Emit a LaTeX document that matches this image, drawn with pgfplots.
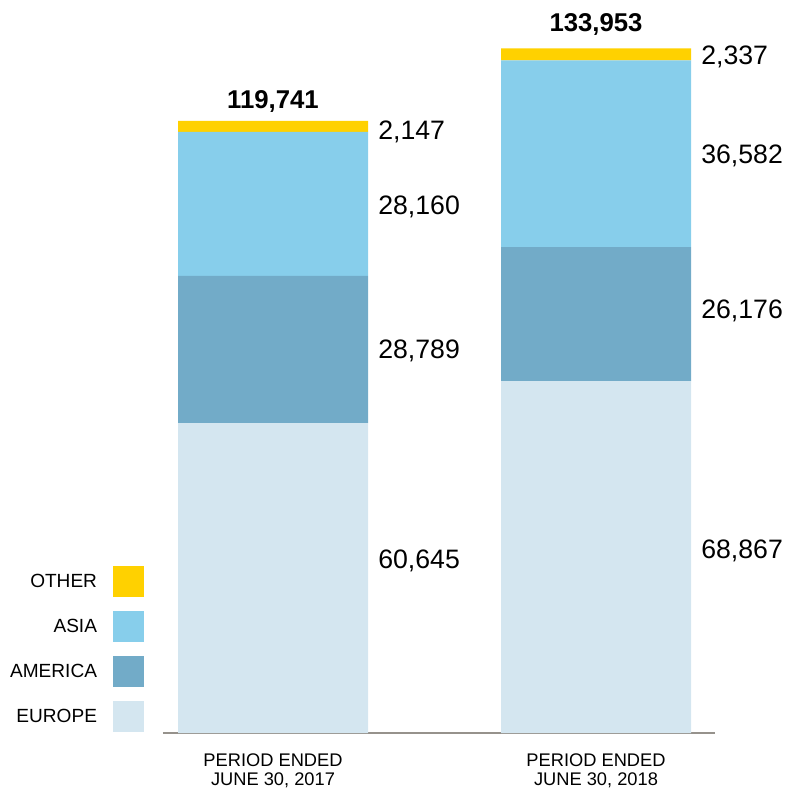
\documentclass[border=0pt]{standalone}
\usepackage{pgfplots}
\pgfplotsset{compat=1.18}
\usepackage{fontspec}
\setmainfont{Liberation Sans}
\definecolor{europe}{RGB}{212,230,240}
\definecolor{america}{RGB}{114,171,200}
\definecolor{asia}{RGB}{135,206,235}
\definecolor{other}{RGB}{255,209,0}
\definecolor{baseln}{RGB}{150,146,140}
\tikzset{
  vlab/.style={inner sep=0pt, font=\fontsize{20}{22}\selectfont, anchor=base west},
  tlab/.style={inner sep=0pt, font=\bfseries\fontsize{19.3}{22}\selectfont, anchor=base},
}
\begin{document}
\begin{tikzpicture}
\begin{axis}[
  scale only axis,
  width=590.25pt, height=549.75pt,
  xmin=-0.8452, xmax=1.5913,
  ymin=0, ymax=143416,
  clip=false,
  ybar stacked,
  bar width=142.5pt,
  axis line style={draw=none},
  major tick style={draw=none},
  ytick=\empty,
  xtick={0,1},
  xticklabels={{PERIOD ENDED\\JUNE 30, 2017},{PERIOD ENDED\\JUNE 30, 2018}},
  xticklabel style={align=center, inner sep=0pt, yshift=-15pt,
    font=\fontsize{13.7}{14.25}\selectfont},
  legend image code/.code={\fill[#1] (0pt,-11pt) rectangle (23.25pt,12.25pt);},
  legend plot pos=right,
  legend cell align=right,
  reverse legend,
  legend style={at={(axis description cs:0.18297,0.22783)}, anchor=north east,
    draw=none, fill=none, inner sep=0pt, outer sep=0pt,
    row sep=10.5pt, column sep=12pt,
    nodes={inner sep=0pt, font=\fontsize{14.3}{16}\selectfont}},
]
\addplot[fill=europe, draw=none] coordinates {(0,60645) (1,68867)};
\addplot[fill=america, draw=none] coordinates {(0,28789) (1,26176)};
\addplot[fill=asia, draw=none] coordinates {(0,28160) (1,36582)};
\addplot[fill=other, draw=none] coordinates {(0,2147) (1,2337)};
\legend{EUROPE, AMERICA, ASIA, OTHER}

\draw[baseln, line width=1.1pt] (axis cs:-0.3406,0) -- (axis cs:1.3684,0);

\node[vlab] at (axis cs:0.3251,32225) {60,645};
\node[vlab] at (axis cs:0.3251,73312) {28,789};
\node[vlab] at (axis cs:0.3251,101487) {28,160};
\node[vlab] at (axis cs:0.3251,116162) {2,147};
\node[vlab] at (axis cs:1.3251,34181) {68,867};
\node[vlab] at (axis cs:1.3251,81139) {26,176};
\node[vlab] at (axis cs:1.3251,111466) {36,582};
\node[vlab] at (axis cs:1.3251,130835) {2,337};
\node[tlab] at (axis cs:0,122227) {119,741};
\node[tlab] at (axis cs:1,137155) {133,953};

\path (axis cs:-0.8452,-10957) rectangle (axis cs:1.5913,143416);
\end{axis}
\end{tikzpicture}
\end{document}
